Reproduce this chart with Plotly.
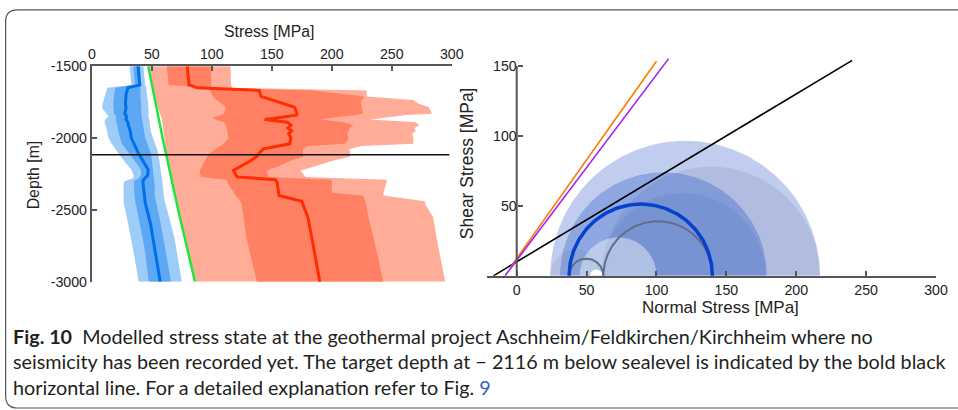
import numpy as np
import plotly.graph_objects as go

# The page shows the figure after an 8 px body margin and is captured at
# 958 x 410 from a 974 x 426 page area, so layout positions are expressed in
# captured-pixel coordinates and converted back to paper fractions.
KX, KY, OFF = 958 / 974, 410 / 426, 8
W, H = 966, 418
DX = 4  # horizontal nudge applied to the plotting areas

# ---------------- stress-depth profiles [MPa] ----------------
shmin_depth = [-1500, -1630, -1650, -1700, -1760, -1790, -1830, -1850, -1870, -1890,
               -1910, -1950, -2000, -2040, -2060, -2080, -2110, -2150, -2180, -2220,
               -2260, -2280, -2300, -2340, -2400, -2430, -2450, -2500, -2600, -2700,
               -2800, -3000]
shmin_mean = [38.5, 40, 30, 28.5, 28, 28.5, 27.5, 29, 28.5, 30,
              30.5, 32, 33, 35, 36, 37.5, 39, 42, 44, 47,
              46.5, 44, 42.5, 43, 43.5, 44, 44.5, 46, 49, 51,
              53, 57]
shmin_1s_lo = [34.5, 36, 19.5, 18.5, 18, 18, 18.5, 20.5, 20, 20.5,
               21, 22, 23.5, 25, 27, 29, 31.5, 35, 37.5, 41,
               41, 39, 35, 35, 35.5, 36, 36.5, 38, 40.5, 42.5,
               44.5, 47.5]
shmin_1s_hi = [40.5, 41, 40.5, 40.5, 41, 41.5, 41.5, 41.5, 42, 42.5,
               43, 43.5, 44.5, 46, 47, 48, 49.5, 50.5, 51, 51.5,
               52, 52, 52, 52.5, 52.5, 53, 53.5, 55, 57.5, 60,
               62, 66]
shmin_2s_lo = [31.5, 33, 13, 11, 9, 8.5, 12, 14, 11, 10.5,
               11.5, 12.5, 14, 16.5, 18, 20, 22.5, 26, 29, 33,
               35, 34.5, 27, 26.5, 26.5, 26.5, 26.5, 28, 30.5, 33,
               35, 39]
shmin_2s_hi = [43, 44.5, 45.5, 46, 47, 47, 47.5, 47, 48, 48,
               48.5, 49, 51, 53, 53.5, 54.5, 55.5, 56, 57, 57.5,
               58, 58.5, 59, 59.5, 60, 60.5, 61, 62.5, 66, 69,
               71, 75]

sv_depth = [-1500, -2000, -2500, -3000]
sv_mean = [47, 59, 72, 86]

shmax_depth = [-1500, -1630, -1650, -1668, -1710, -1735, -1760, -1785, -1830, -1840,
               -1858, -1870, -1890, -1910, -1930, -1950, -1970, -2000, -2040, -2055,
               -2075, -2100, -2130, -2160, -2190, -2225, -2270, -2290, -2310, -2380,
               -2400, -2440, -2460, -2550, -2700, -3000]
shmax_mean = [79.5, 81, 88, 139.5, 141, 151, 160, 169, 171, 170.5,
              155, 144, 163, 166, 163.5, 166.5, 164, 166, 165, 155,
              143, 140, 137, 132, 126, 118, 121, 153, 154.5, 155.5,
              156, 175, 176, 180, 183.5, 190]
shmax_1s_lo = [62.5, 64, 98, 98.6, 101, 104, 108, 112, 110, 108,
               101, 103, 110, 112, 112.5, 113, 113, 114, 110, 107,
               103, 99, 96, 94, 92, 90, 91, 112.5, 113, 118,
               120, 124, 125, 126.5, 129, 137.5]
shmax_1s_hi = [99, 99.5, 100, 184.7, 227, 225, 224, 225, 226, 220,
               200, 190, 210, 218, 215, 214, 213, 214, 211, 180,
               176, 176, 176, 165, 157, 146, 147, 200, 200, 200,
               226, 228, 228.5, 230.5, 235, 243]
shmax_2s_lo = [47.5, 50.5, 51, 51.5, 52.5, 53.5, 54, 55, 56.5, 57,
               58, 58.5, 58.5, 59, 59.5, 60, 60, 60.5, 61, 61,
               61.5, 62, 62.8, 63.6, 64.4, 65.3, 66.5, 67, 67.5, 69.4,
               69.9, 70.9, 71.5, 73.9, 78, 86.5]
shmax_2s_hi = [115.5, 116, 117, 229, 229, 268, 272, 281, 283.5, 262,
               245, 232, 270, 273, 269, 270, 267, 268, 268, 225,
               215, 215, 215, 200, 188, 174, 178, 246, 245.5, 243,
               243, 277.5, 278, 284.5, 287.5, 294.5]

target_depth = -2116

stress_ticks = [0, 50, 100, 150, 200, 250, 300]
depth_ticks = [-1500, -2000, -2500, -3000]

# ---------------- Mohr diagram ----------------
# shaded circles spanning (sigma_lo, sigma_hi)
band_lo = [24, 61, 31, 60, 24, 45]
band_hi = [217, 217, 179, 178, 62, 100]
band_fill = ["rgba(60,100,205,0.32)", "rgba(110,120,160,0.19)", "rgba(40,90,200,0.33)",
             "rgba(40,80,170,0.12)", "rgba(110,120,160,0.15)", "rgba(255,255,255,0.42)"]
hole_lo, hole_hi = 52.5, 61.5

# principal stresses at the target depth
s3, s2, s1 = 37.5, 62, 140

# failure envelopes: cohesion, friction coefficient, sigma range
env_c = [10, 12.4, 11.1]
env_mu = [0.6, 1.41, 1.326]
env_s0 = [-16.7, -4, -8.4]
env_s1 = [240, 100, 108.7]
env_color = ["#000000", "#ff7a00", "#a020f0"]

normal_ticks = [0, 50, 100, 150, 200, 250, 300]
shear_ticks = [50, 100, 150]


def px_x(p):
    """captured pixel column -> paper fraction"""
    return (p / KX - OFF) / W


def px_y(p):
    """captured pixel row -> paper fraction"""
    return 1 - (p / KY - OFF) / H


fig = go.Figure()

FONT = "Liberation Sans, Arial, sans-serif"
CAPFONT = "Lato, Liberation Sans, sans-serif"


def band(x_lo, x_hi, depth, color):
    fig.add_trace(go.Scatter(
        x=list(x_lo) + list(x_hi)[::-1], y=list(depth) + list(depth)[::-1],
        fill="toself", fillcolor=color, line=dict(width=0), mode="lines",
        hoverinfo="skip", showlegend=False, xaxis="x", yaxis="y"))


band(shmax_2s_lo, shmax_2s_hi, shmax_depth, "rgb(255,172,152)")
band(shmax_1s_lo, shmax_1s_hi, shmax_depth, "rgb(255,128,98)")
fig.add_trace(go.Scatter(x=shmax_mean, y=shmax_depth, mode="lines",
                         line=dict(color="rgb(255,45,0)", width=3),
                         showlegend=False, xaxis="x", yaxis="y"))
band(shmin_2s_lo, shmin_2s_hi, shmin_depth, "rgb(158,204,248)")
band(shmin_1s_lo, shmin_1s_hi, shmin_depth, "rgb(92,168,245)")
fig.add_trace(go.Scatter(x=shmin_mean, y=shmin_depth, mode="lines",
                         line=dict(color="rgb(0,112,232)", width=3),
                         showlegend=False, xaxis="x", yaxis="y"))
fig.add_trace(go.Scatter(x=sv_mean, y=sv_depth, mode="lines",
                         line=dict(color="rgb(30,230,60)", width=2.5),
                         showlegend=False, xaxis="x", yaxis="y"))
fig.add_trace(go.Scatter(x=[0, 298], y=[target_depth, target_depth], mode="lines",
                         line=dict(color="#111", width=1.6),
                         showlegend=False, xaxis="x", yaxis="y"))

theta = np.linspace(0, np.pi, 181)


def semicircle(lo, hi):
    c, r = (lo + hi) / 2, (hi - lo) / 2
    return c + r * np.cos(theta), r * np.sin(theta)


for lo, hi, col in zip(band_lo, band_hi, band_fill):
    x, y = semicircle(lo, hi)
    fig.add_trace(go.Scatter(x=x, y=y, fill="toself", fillcolor=col, mode="lines",
                             line=dict(width=0), hoverinfo="skip", showlegend=False,
                             xaxis="x2", yaxis="y2"))
x, y = semicircle(hole_lo, hole_hi)
fig.add_trace(go.Scatter(x=x, y=y, fill="toself", fillcolor="white", mode="lines",
                         line=dict(width=0), showlegend=False, xaxis="x2", yaxis="y2"))

for lo, hi in [(s3, s2), (s2, s1)]:
    x, y = semicircle(lo, hi)
    fig.add_trace(go.Scatter(x=x, y=y, mode="lines", line=dict(color="rgb(95,110,140)", width=2),
                             showlegend=False, xaxis="x2", yaxis="y2"))
x, y = semicircle(s3, s1)
fig.add_trace(go.Scatter(x=x, y=y, mode="lines", line=dict(color="rgb(5,65,205)", width=3.5),
                         showlegend=False, xaxis="x2", yaxis="y2"))

for c, mu, a, b, col in zip(env_c, env_mu, env_s0, env_s1, env_color):
    fig.add_trace(go.Scatter(x=[a, b], y=[c + mu * a, c + mu * b], mode="lines",
                             line=dict(color=col, width=1.6),
                             showlegend=False, xaxis="x2", yaxis="y2"))

AX = "#555"
tickfont = dict(family=FONT, size=14.2, color="#222")

fig.update_layout(
    width=W, height=H, margin=dict(l=0, r=0, t=0, b=0),
    paper_bgcolor="white", plot_bgcolor="white",
    xaxis=dict(domain=[px_x(91.7 + DX), px_x(451.7 + DX)], range=[0, 300], side="top",
               tickvals=stress_ticks, ticks="inside", ticklen=5, tickcolor=AX, tickwidth=1.5,
               showline=True, linecolor=AX, linewidth=2, showgrid=False, zeroline=False,
               tickfont=tickfont, anchor="y"),
    yaxis=dict(domain=[px_y(281.7), px_y(66)], range=[-3000, -1500],
               tickvals=depth_ticks, ticktext=[str(v) for v in depth_ticks],
               ticks="inside", ticklen=5, tickcolor=AX, tickwidth=1.5,
               showline=True, linecolor=AX, linewidth=2, showgrid=False, zeroline=False,
               tickfont=tickfont, anchor="x"),
    xaxis2=dict(domain=[px_x(487.3 + DX), px_x(936 + DX)], range=[-21, 300], anchor="y2",
                tickvals=normal_ticks, ticks="inside", ticklen=5, tickcolor=AX, tickwidth=1.5,
                showline=True, linecolor=AX, linewidth=2, showgrid=False, zeroline=False,
                tickfont=tickfont),
    yaxis2=dict(domain=[px_y(275.7), px_y(57.3)], range=[0, 156], anchor="free",
                position=px_x(516.7 + DX),
                tickvals=shear_ticks, ticks="inside", ticklen=5, tickcolor=AX, tickwidth=1.5,
                showline=False, showgrid=False, zeroline=False, tickfont=tickfont),
)

# axis titles
titles = [
    ("Stress [MPa]", 273, 31, 0, 15.8),
    ("Depth [m]", 37, 175, -90, 15.8),
    ("Normal Stress [MPa]", 724, 307.5, 0, 17),
    ("Shear Stress [MPa]", 471, 163, -90, 17.5),
]
for text, tx, ty, ang, size in titles:
    fig.add_annotation(text=text, xref="paper", yref="paper", x=px_x(tx), y=px_y(ty),
                       xanchor="center", yanchor="middle", showarrow=False, textangle=ang,
                       borderpad=0, font=dict(family=FONT, size=size, color="#222"))

# y axis line of the Mohr diagram (drawn from 0 to 150 only)
fig.add_shape(type="line", xref="x2", yref="y2", x0=0, x1=0, y0=0, y1=150,
              line=dict(color=AX, width=2))

# rounded frame around the figure
fx0, fy0, fy1, rad = 9.5, 9.5, 408, 12
path = (f"M {px_x(975)},{px_y(fy1)} L {px_x(fx0 + rad)},{px_y(fy1)} "
        f"Q {px_x(fx0)},{px_y(fy1)} {px_x(fx0)},{px_y(fy1 - rad)} "
        f"L {px_x(fx0)},{px_y(fy0 + rad)} Q {px_x(fx0)},{px_y(fy0)} {px_x(fx0 + rad)},{px_y(fy0)} "
        f"L {px_x(975)},{px_y(fy0)}")
fig.add_shape(type="path", xref="paper", yref="paper", path=path,
              line=dict(color="#555", width=1.2))

caption = [
    "<b>Fig. 10</b>  Modelled stress state at the geothermal project Aschheim/Feldkirchen/Kirchheim where no",
    "seismicity has been recorded yet. The target depth at \u2212 2116 m below sealevel is indicated by the bold black",
    "horizontal line. For a detailed explanation refer to Fig. <span style='color:#2d5fc4'>9</span>",
]
for i, line in enumerate(caption):
    fig.add_annotation(text=line, xref="paper", yref="paper", x=px_x(14.5), y=px_y(336 + 25.3 * i),
                       xanchor="left", yanchor="middle", showarrow=False, align="left",
                       font=dict(family=CAPFONT, size=19.8, color="#231f20"))

fig.write_html("out.html")
